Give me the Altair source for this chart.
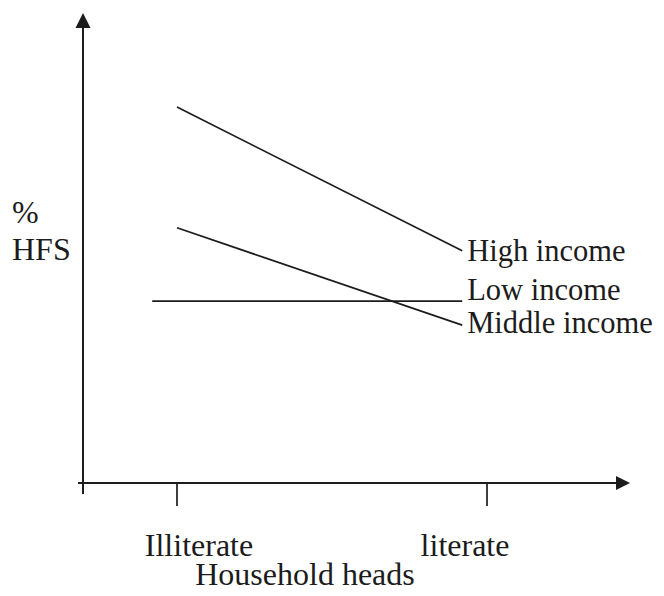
import altair as alt
import pandas as pd

# ---------------- data ----------------
series = ["High income", "Middle income", "Low income"]
x_start = [0.0, 0.0, -0.08]        # literacy position (0 = illiterate, 1 = literate)
x_end = [0.92, 0.92, 0.92]
y_start = [80.0, 54.3, 38.7]       # % HFS (schematic units)
y_end = [49.4, 33.6, 38.7]

tick_values = [0, 1]
tick_labels = ["Illiterate", "literate"]
x_title = "Household heads"
y_title_lines = ["%", "HFS"]

# ---------------- layout / style ----------------
W, H = 648, 580
PX_X = 310.0   # px per x unit
PX_Y = 4.7     # px per y unit
X_ORIGIN_PX = 177 - 8
Y_ORIGIN_PX = 483 - 8
X0 = -X_ORIGIN_PX / PX_X
X1 = X0 + W / PX_X
Y1 = Y_ORIGIN_PX / PX_Y
Y0 = Y1 - H / PX_Y

INK = "#1c1c1c"
FONT = "Liberation Serif"
FS = 32
FS_LABEL = 30.5

label_dy = {"High income": 10, "Middle income": 8, "Low income": -1}
tick_dx = [22, -22]
ytitle_px = [223 - 8, 260 - 8]

xs = alt.Scale(domain=[X0, X1], nice=False, zero=False)
ys = alt.Scale(domain=[Y0, Y1], nice=False, zero=False)

rows = []
for s, xa, xb, ya, yb in zip(series, x_start, x_end, y_start, y_end):
    rows.append({"series": s, "x": xa, "y": ya, "o": 0})
    rows.append({"series": s, "x": xb, "y": yb, "o": 1})
lines_df = pd.DataFrame(rows)

lines = alt.Chart(lines_df).mark_line(color=INK, strokeWidth=1.7).encode(
    x=alt.X("x:Q", scale=xs, axis=None),
    y=alt.Y("y:Q", scale=ys, axis=None),
    detail="series:N",
    order="o:Q",
)

layers = []

# axes (drawn as marks)
y_axis_x = (83 - 177) / PX_X
axis_df = pd.DataFrame({
    "x": [y_axis_x, (78 - 177) / PX_X],
    "x2": [y_axis_x, (616 - 177) / PX_X],
    "y": [(483 - 494) / PX_Y, 0.0],
    "y2": [(483 - 28) / PX_Y, 0.0],
})
layers.append(alt.Chart(axis_df).mark_rule(color=INK, strokeWidth=2).encode(
    x=alt.X("x:Q", scale=xs, axis=None), x2="x2:Q",
    y=alt.Y("y:Q", scale=ys, axis=None), y2="y2:Q",
))

layers.append(alt.Chart(pd.DataFrame({"x": [y_axis_x], "y": [(483 - 13) / PX_Y]})).mark_point(
    shape="M0,0L-1,2L1,2Z", size=225, filled=True, color=INK, opacity=1, strokeWidth=0
).encode(x=alt.X("x:Q", scale=xs, axis=None), y=alt.Y("y:Q", scale=ys, axis=None)))

layers.append(alt.Chart(pd.DataFrame({"x": [(630 - 177) / PX_X], "y": [0.0]})).mark_point(
    shape="M0,0L-2,-1L-2,1Z", size=196, filled=True, color=INK, opacity=1, strokeWidth=0
).encode(x=alt.X("x:Q", scale=xs, axis=None), y=alt.Y("y:Q", scale=ys, axis=None)))

tick_df = pd.DataFrame({"x": tick_values, "y": [0.0, 0.0], "y2": [(483 - 506) / PX_Y] * 2})
layers.append(alt.Chart(tick_df).mark_rule(color=INK, strokeWidth=1.7).encode(
    x=alt.X("x:Q", scale=xs, axis=None), y=alt.Y("y:Q", scale=ys, axis=None), y2="y2:Q"
))

layers.append(lines)

for s, xb, yb in zip(series, x_end, y_end):
    layers.append(
        alt.Chart(pd.DataFrame({"x": [xb], "y": [yb], "t": [s]}))
        .mark_text(align="left", baseline="alphabetic", dx=5, dy=label_dy[s],
                   font=FONT, fontSize=FS_LABEL, color=INK)
        .encode(x=alt.X("x:Q", scale=xs, axis=None), y=alt.Y("y:Q", scale=ys, axis=None), text="t:N")
    )

for v, lab, dx in zip(tick_values, tick_labels, tick_dx):
    layers.append(
        alt.Chart(pd.DataFrame({"x": [v], "y": [0.0], "t": [lab]}))
        .mark_text(align="center", baseline="alphabetic", dx=dx, dy=73,
                   font=FONT, fontSize=FS, color=INK)
        .encode(x=alt.X("x:Q", scale=xs, axis=None), y=alt.Y("y:Q", scale=ys, axis=None), text="t:N")
    )

layers.append(alt.Chart(pd.DataFrame({"t": [x_title]})).mark_text(
    align="center", baseline="alphabetic", font=FONT, fontSize=FS, color=INK
).encode(x=alt.value(305 - 8), y=alt.value(H - 3), text="t:N"))

for t, py in zip(y_title_lines, ytitle_px):
    layers.append(alt.Chart(pd.DataFrame({"t": [t]})).mark_text(
        align="left", baseline="alphabetic", font=FONT, fontSize=FS, color=INK
    ).encode(x=alt.value(12 - 8), y=alt.value(py), text="t:N"))

chart = alt.layer(*layers).properties(
    width=W, height=H, padding=0, autosize=alt.AutoSizeParams(type="none"),
).configure(font=FONT).configure_view(stroke=None)

chart.save("out.html", embed_options={"renderer": "svg", "actions": False})
